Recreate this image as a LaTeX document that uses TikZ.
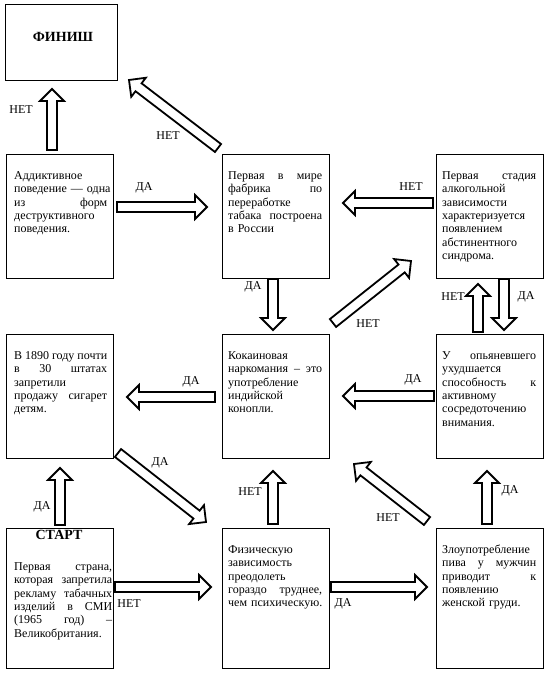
\documentclass[tikz,border=0pt]{standalone}
\usepackage{fontspec}
\setmainfont{Liberation Serif}
\usetikzlibrary{calc}
\newcommand\jl[2][94pt]{\leavevmode\hbox to #1{#2}}
\newcommand\blockarrow[2]{%
  \coordinate (hb) at ($(#2)!12pt!(#1)$);
  \draw[barrow] ($(#1)!5pt!90:(#2)$) -- ($(hb)!5pt!-90:(#1)$) -- ($(hb)!12pt!-90:(#1)$) -- (#2) -- ($(hb)!12pt!90:(#1)$) -- ($(hb)!5pt!90:(#1)$) -- ($(#1)!5pt!-90:(#2)$) -- cycle;}
\tikzset{
  box/.style={draw, line width=1pt, minimum width=107pt, minimum height=124pt, anchor=north west, inner sep=0pt},
  tallbox/.style={box, minimum height=140pt},
  txt/.style={anchor=north west, inner sep=0pt, text width=100pt, align=left, font=\rmfamily\fontsize{12}{13.3}\selectfont},
  lbl/.style={font=\rmfamily\fontsize{12}{14}\selectfont, inner sep=0pt},
  ttl/.style={font=\rmfamily\bfseries\fontsize{14}{16}\selectfont, inner sep=0pt},
  barrow/.style={draw, line width=1.8pt, fill=white, line join=miter},
}
\begin{document}
\begin{tikzpicture}[x=1pt,y=-1pt]
\useasboundingbox (0,0) rectangle (548,675);
% boxes
\node[box, minimum width=112pt, minimum height=76pt] (fin) at (5,4) {};
\node[ttl] (fint) at (63,37) {ФИНИШ};
\node[box] (A) at (6,154) {};
\node[box] (B) at (222,154) {};
\node[box] (C) at (436,154) {};
\node[box] (D) at (6,334) {};
\node[box] (E) at (222,334) {};
\node[box] (F) at (436,334) {};
\node[tallbox] (G) at (6,528) {};
\node[tallbox] (H) at (222,528) {};
\node[tallbox] (I) at (436,528) {};
% texts
\node[txt] (At) at (14,170) {\strut Аддиктивное\\\jl[93pt]{поведение \hfill— \hfill одна}\\\jl[93pt]{из\hfill форм}\\деструктивного\\поведения.};
\node[txt] (Bt) at (228,170) {\strut\jl{Первая\hfill в\hfill мире}\\\jl{фабрика\hfill по}\\переработке\\\jl{табака\hfill построена}\\\mbox{в России}};
\node[txt] (Ct) at (442,170) {\strut\jl{Первая\hfill стадия}\\алкогольной\\зависимости\\характеризуется\\появлением\\абстинентного\\синдрома.};
\node[txt] (Dt) at (14,350) {\strut\jl[93pt]{В\hfill 1890\hfill году\hfill почти}\\\jl[93pt]{в\hfill 30\hfill штатах}\\запретили\\\jl[93pt]{продажу\hfill сигарет}\\детям.};
\node[txt] (Et) at (228,350) {\strut Кокаиновая\\\jl{наркомания \hfill– \hfill это}\\употребление\\индийской\\конопли.};
\node[txt] (Ft) at (442,350) {\strut\jl{У\hfill опьяневшего}\\ухудшается\\\jl{способность\hfill к}\\активному\\сосредоточению\\внимания.};
\node[ttl] (Gh) at (59,535) {СТАРТ};
\node[txt] (Gt) at (14,561) {\strut\jl[98pt]{Первая\hfill страна,}\\\jl[98pt]{которая\hfill запретила}\\\jl[98pt]{рекламу\hfill табачных}\\\jl[98pt]{изделий\hfill в\hfill СМИ}\\\jl[98pt]{(1965\hfill год)\hfill –}\\Великобритания.};
\node[txt] (Ht) at (228,544) {\strut Физическую\\зависимость\\преодолеть\\\jl{гораздо\hfill труднее,}\\\mbox{чем психическую.}};
\node[txt] (It) at (442,544) {\strut Злоупотребление\\\jl{пива\hfill у\hfill мужчин}\\\jl{приводит\hfill к}\\появлению\\\mbox{женской груди.}};
% arrow end points
\coordinate (a1s) at (52,150);  \coordinate (a1e) at (52,89);
\coordinate (a2s) at (218,148); \coordinate (a2e) at (129,80);
\coordinate (a3s) at (117,207); \coordinate (a3e) at (207,207);
\coordinate (a4s) at (433,203); \coordinate (a4e) at (343,203);
\coordinate (a5s) at (273,279); \coordinate (a5e) at (273,330);
\coordinate (a6s) at (333,323); \coordinate (a6e) at (411,261);
\coordinate (a7s) at (478,332); \coordinate (a7e) at (478,284);
\coordinate (a8s) at (504,279); \coordinate (a8e) at (504,330);
\coordinate (a9s) at (215,397); \coordinate (a9e) at (127,397);
\coordinate (a10s) at (434,396); \coordinate (a10e) at (343,396);
\coordinate (a11s) at (118,453); \coordinate (a11e) at (206,522);
\coordinate (a12s) at (60,525); \coordinate (a12e) at (60,468);
\coordinate (a13s) at (273,524); \coordinate (a13e) at (273,471);
\coordinate (a14s) at (427,521); \coordinate (a14e) at (354,464);
\coordinate (a15s) at (487,524); \coordinate (a15e) at (487,471);
\coordinate (a16s) at (115,587); \coordinate (a16e) at (211,587);
\coordinate (a17s) at (331,587); \coordinate (a17e) at (427,587);
\blockarrow{a1s}{a1e}
\blockarrow{a2s}{a2e}
\blockarrow{a3s}{a3e}
\blockarrow{a4s}{a4e}
\blockarrow{a5s}{a5e}
\blockarrow{a6s}{a6e}
\blockarrow{a7s}{a7e}
\blockarrow{a8s}{a8e}
\blockarrow{a9s}{a9e}
\blockarrow{a10s}{a10e}
\blockarrow{a11s}{a11e}
\blockarrow{a12s}{a12e}
\blockarrow{a13s}{a13e}
\blockarrow{a14s}{a14e}
\blockarrow{a15s}{a15e}
\blockarrow{a16s}{a16e}
\blockarrow{a17s}{a17e}
% labels
\node[lbl] (l1) at (21,110) {НЕТ};
\node[lbl] (l2) at (168,136) {НЕТ};
\node[lbl] (l3) at (144,188) {ДА};
\node[lbl] (l4) at (411,187) {НЕТ};
\node[lbl] (l5) at (253,287) {ДА};
\node[lbl] (l6) at (368,324) {НЕТ};
\node[lbl] (l7) at (453,297) {НЕТ};
\node[lbl] (l8) at (526,297) {ДА};
\node[lbl] (l9) at (191,382) {ДА};
\node[lbl] (l10) at (413,380) {ДА};
\node[lbl] (l11) at (160,463) {ДА};
\node[lbl] (l12) at (42,507) {ДА};
\node[lbl] (l13) at (250,492) {НЕТ};
\node[lbl] (l14) at (388,518) {НЕТ};
\node[lbl] (l15) at (510,491) {ДА};
\node[lbl] (l16) at (129,604) {НЕТ};
\node[lbl] (l17) at (343,604) {ДА};
\end{tikzpicture}
\end{document}
